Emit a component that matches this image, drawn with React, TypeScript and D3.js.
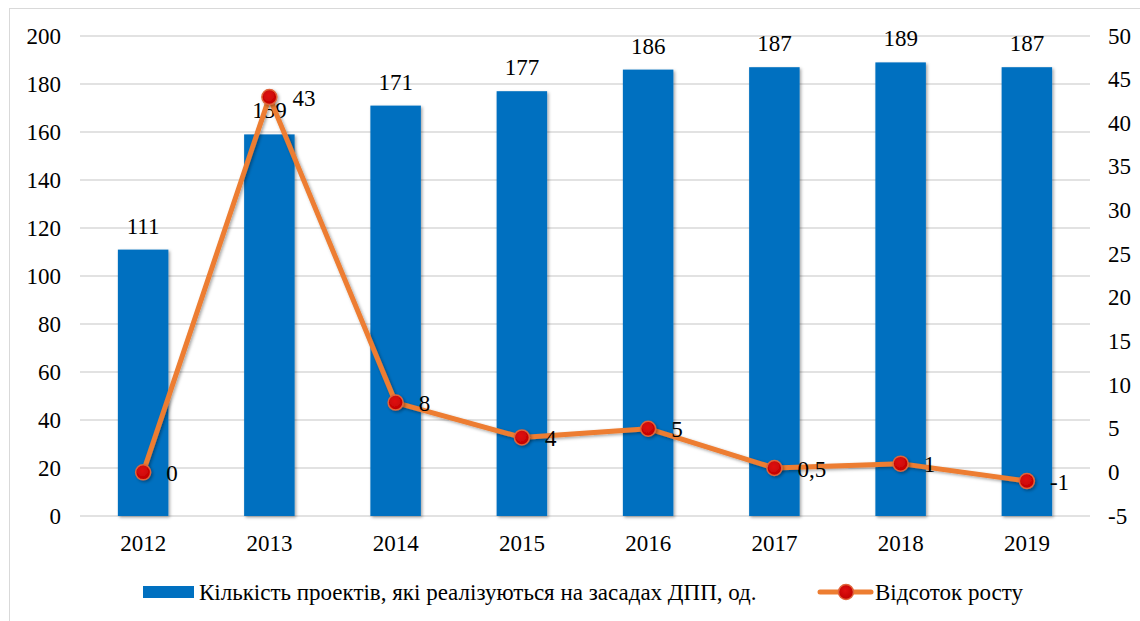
import React from 'react';
import * as d3 from 'd3';

const years = ['2012', '2013', '2014', '2015', '2016', '2017', '2018', '2019'];
const projects = [111, 159, 171, 177, 186, 187, 189, 187];
const growth = [0, 43, 8, 4, 5, 0.5, 1, -1];
const leftTicks = [0, 20, 40, 60, 80, 100, 120, 140, 160, 180, 200];
const rightTicks = [-5, 0, 5, 10, 15, 20, 25, 30, 35, 40, 45, 50];

const barName = 'Кількість проектів, які реалізуються на засадах ДПП, од.';
const lineName = 'Відсоток росту';

const W = 1140;
const H = 621;
const margin = { top: 36, right: 50, bottom: 105, left: 80 };
const txt = { fontFamily: 'Liberation Serif', fontSize: 23, fill: '#000' };

const BLUE = '#0070C0';
const ORANGE = '#ED7D31';
const RED = '#C00000';

const App = () => {
  const plotW = W - margin.left - margin.right;
  const plotH = H - margin.top - margin.bottom;

  const x = d3.scaleBand()
    .domain(years)
    .range([margin.left, margin.left + plotW])
    .paddingInner(0.6)
    .paddingOuter(0.3);

  const yL = d3.scaleLinear().domain([0, 200]).range([margin.top + plotH, margin.top]);
  const yR = d3.scaleLinear().domain([-5, 50]).range([margin.top + plotH, margin.top]);

  const cx = (d: string) => (x(d) ?? 0) + x.bandwidth() / 2;

  const line = d3.line<number>()
    .x((_, i) => cx(years[i]))
    .y((d) => yR(d));

  const fmt = (v: number) => String(v).replace('.', ',');

  return (
    <svg width={W} height={H} style={{ position: 'absolute', left: 0, top: 0, background: '#fff' }}>
      <defs>
        <filter id="shadow" x="-30%" y="-30%" width="160%" height="160%">
          <feDropShadow dx="1.5" dy="1.5" stdDeviation="1.5" floodColor="#000" floodOpacity="0.35" />
        </filter>
        <radialGradient id="dot" cx="45%" cy="40%" r="60%">
          <stop offset="0%" stopColor="#e01010" />
          <stop offset="100%" stopColor={RED} />
        </radialGradient>
      </defs>
      <rect x={9.5} y={8.5} width={W} height={H} fill="#fff" stroke="#d9d9d9" />

      {/* gridlines */}
      {leftTicks.map((t) => (
        <line key={`g${t}`} x1={margin.left} x2={margin.left + plotW} y1={yL(t)} y2={yL(t)}
          stroke="#d9d9d9" strokeWidth={1.5} />
      ))}

      {/* left axis labels */}
      {leftTicks.map((t) => (
        <text key={`l${t}`} x={61} y={yL(t)} dy="0.33em" textAnchor="end" style={txt}>{t}</text>
      ))}
      {/* right axis labels */}
      {rightTicks.map((t) => (
        <text key={`r${t}`} x={1108} y={yR(t)} dy="0.33em" textAnchor="start" style={txt}>{t}</text>
      ))}
      {/* category labels */}
      {years.map((y) => (
        <text key={`x${y}`} x={cx(y)} y={551} textAnchor="middle" style={txt}>{y}</text>
      ))}

      {/* bars */}
      {projects.map((v, i) => (
        <rect key={`b${i}`} x={x(years[i])} y={yL(v)} width={x.bandwidth()} height={yL(0) - yL(v)}
          fill={BLUE} filter="url(#shadow)" />
      ))}
      {projects.map((v, i) => (
        <text key={`bl${i}`} x={cx(years[i])} y={yL(v) - 16} textAnchor="middle" style={txt}>{v}</text>
      ))}

      {/* line */}
      <path d={line(growth) ?? ''} fill="none" stroke={ORANGE} strokeWidth={5} strokeLinejoin="round"
        filter="url(#shadow)" />
      {growth.map((v, i) => (
        <circle key={`m${i}`} cx={cx(years[i])} cy={yR(v)} r={7.5} fill="url(#dot)" stroke="#e0643a"
          strokeWidth={1.5} filter="url(#shadow)" />
      ))}
      {growth.map((v, i) => (
        <text key={`ml${i}`} x={cx(years[i]) + 23} y={yR(v) + 1} dy="0.33em" textAnchor="start" style={txt}>{fmt(v)}</text>
      ))}

      {/* legend */}
      <rect x={143} y={586} width={51} height={12} fill={BLUE} />
      <text x={199} y={600} style={txt}>{barName}</text>
      <line x1={820} x2={871} y1={592} y2={592} stroke={ORANGE} strokeWidth={5} strokeLinecap="round" />
      <circle cx={846} cy={592} r={7.5} fill="url(#dot)" stroke="#e0643a" strokeWidth={1.5} />
      <text x={875} y={600} style={txt}>{lineName}</text>
    </svg>
  );
};

export default App;
